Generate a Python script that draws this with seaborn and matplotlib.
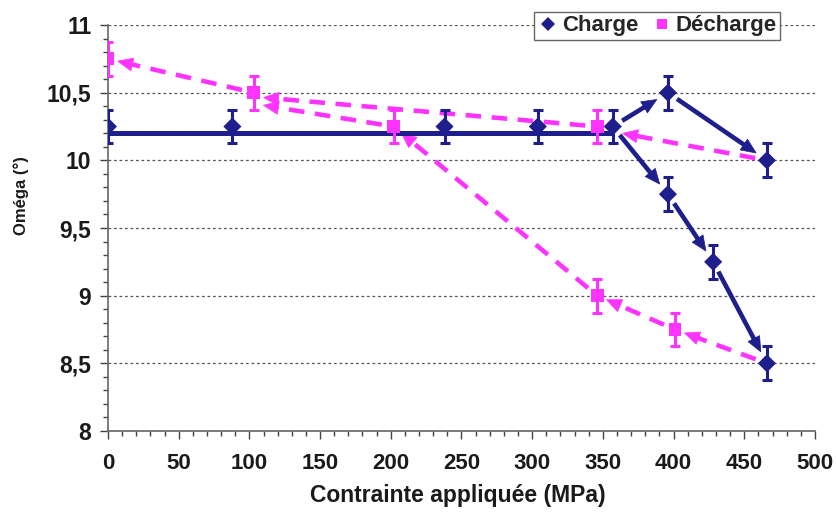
import matplotlib
matplotlib.use("Agg")
import matplotlib.pyplot as plt
from matplotlib.patches import Polygon
from matplotlib.ticker import MultipleLocator, FuncFormatter, FixedLocator
import numpy as np
import pandas as pd
import seaborn as sns

# Loading path: applied stress (MPa) and Omega angle (degrees)
charge_x = [0, 88, 238, 304, 357, 396, 466, 396, 428, 466]
charge_y = [10.25, 10.25, 10.25, 10.25, 10.25, 10.5, 10.0, 9.75, 9.25, 8.5]

# Unloading path
decharge_x = [0, 103, 202, 346, 346, 401]
decharge_y = [10.75, 10.5, 10.25, 10.25, 9.0, 8.75]

omega_err = 0.125

# Plateau of the loading branch
plateau_x = [0, 357]
plateau_y = [10.2, 10.2]

x_ticks = [0, 50, 100, 150, 200, 250, 300, 350, 400, 450, 500]
y_ticks = [8, 8.5, 9, 9.5, 10, 10.5, 11]

series_names = ["Charge", "Décharge"]
colors = {"Charge": "#1e1e8c", "Décharge": "#ff33ff"}

# Path arrows, given as indices into the point lists
charge_arrows = [(4, 5), (5, 6), (4, 7), (7, 8), (8, 9)]
decharge_arrows = [
    (("C", 6), ("C", 4), -5),
    (("D", 3), ("D", 1), -4),
    (("D", 2), ("D", 1), -11),
    (("D", 1), ("D", 0), 0),
    (("C", 9), ("D", 5), 0),
    (("D", 5), ("D", 4), 0),
    (("D", 4), ("D", 2), 0),
]

sns.set_theme(style="white")
plt.rcParams["font.family"] = ["Liberation Sans", "DejaVu Sans"]

df = pd.DataFrame({
    "x": charge_x + decharge_x,
    "y": charge_y + decharge_y,
    "serie": ["Charge"] * len(charge_x) + ["Décharge"] * len(decharge_x),
})

fig = plt.figure(figsize=(8.37, 5.16), dpi=100)
ax = fig.add_axes([0.129, 0.1647, 0.8447, 0.7868])
ax.set_xlim(0, 500)
ax.set_ylim(8, 11)

# Grid
ax.yaxis.grid(True, which="major", color="#555555", linestyle=(0, (2.2, 2.2)), linewidth=0.9)
ax.set_axisbelow(True)

# Plateau line
ax.plot(plateau_x, plateau_y, color=colors["Charge"], lw=3.6, solid_capstyle="butt", zorder=4)

pts = {"C": list(zip(charge_x, charge_y)), "D": list(zip(decharge_x, decharge_y))}


def draw_arrow(p_from, p_to, color, dashed, shrink_a, shrink_b, end_dy=0.0,
               lw=3.3, head_len=15.0, head_w=13.0, z=3):
    to_px = ax.transData.transform
    a = np.asarray(to_px(p_from), dtype=float)
    b = np.asarray(to_px(p_to), dtype=float) + np.array([0.0, end_dy])
    d = b - a
    u = d / np.hypot(*d)
    n = np.array([-u[1], u[0]])
    start = a + u * shrink_a
    tip = b - u * shrink_b
    base = tip - u * head_len
    inv = ax.transData.inverted()
    shaft = inv.transform(np.vstack([start, base + u * 2.0]))
    ax.plot(shaft[:, 0], shaft[:, 1], color=color, lw=lw,
            linestyle=(0, (3.4, 2.3)) if dashed else "-",
            solid_capstyle="butt", dash_capstyle="butt", zorder=z)
    head = inv.transform(np.vstack([tip, base + n * head_w / 2, base - n * head_w / 2]))
    ax.add_patch(Polygon(head, closed=True, facecolor=color, edgecolor=color,
                         lw=0.5, zorder=z))


for i, j in charge_arrows:
    draw_arrow(pts["C"][i], pts["C"][j], colors["Charge"], False, 11, 13, z=5)

for (sa, ia), (sb, ib), dy in decharge_arrows:
    draw_arrow(pts[sa][ia], pts[sb][ib], colors["Décharge"], True, 12, 10, end_dy=dy, z=3)

# Error bars
ax.errorbar(charge_x, charge_y, yerr=omega_err, fmt="none", ecolor=colors["Charge"],
            elinewidth=2.2, capsize=3.5, capthick=2.2, zorder=6)
ax.errorbar(decharge_x, decharge_y, yerr=omega_err, fmt="none", ecolor=colors["Décharge"],
            elinewidth=2.2, capsize=3.5, capthick=2.2, zorder=6)

# Markers
sns.scatterplot(data=df, x="x", y="y", hue="serie", style="serie",
                palette=colors, markers={"Charge": "D", "Décharge": "s"},
                s=85, linewidth=0, ax=ax, zorder=7, legend=True)

# Axes styling
for side in ["top", "right"]:
    ax.spines[side].set_visible(False)
for side in ["left", "bottom"]:
    ax.spines[side].set_color("#666666")
    ax.spines[side].set_linewidth(1.2)

ax.xaxis.set_major_locator(FixedLocator(x_ticks))
ax.yaxis.set_major_locator(FixedLocator(y_ticks))
ax.xaxis.set_minor_locator(MultipleLocator(10))
ax.yaxis.set_minor_locator(MultipleLocator(0.1))
ax.yaxis.set_major_formatter(FuncFormatter(lambda v, p: f"{v:g}".replace(".", ",")))
ax.tick_params(axis="both", which="major", direction="out", length=6, width=1,
               color="#444444", bottom=True, left=True)
ax.tick_params(axis="both", which="minor", direction="out", length=3.5, width=1,
               color="#444444", bottom=True, left=True)
ax.tick_params(axis="x", which="major", pad=10, labelsize=16)
ax.tick_params(axis="y", which="major", pad=6, labelsize=16.5)
for lab in ax.get_xticklabels() + ax.get_yticklabels():
    lab.set_fontweight("bold")
    lab.set_color("#1a1a1a")

ax.set_xlabel("Contrainte appliquée (MPa)", fontsize=16.5, fontweight="bold", color="#1a1a1a")
ax.set_ylabel("Oméga (°)", fontsize=12, fontweight="bold", color="#1a1a1a")
ax.xaxis.label.set_va("center")
ax.yaxis.label.set_va("center")
ax.xaxis.set_label_coords(0.495, -0.16)
ax.yaxis.set_label_coords(-0.123, 0.58)

# Legend
handles, labels = ax.get_legend_handles_labels()
keep = [(h, l) for h, l in zip(handles, labels) if l in series_names]
leg = ax.legend([h for h, _ in keep], [l for _, l in keep], ncol=2, loc="center",
                bbox_to_anchor=(0.785, 0.95), bbox_transform=fig.transFigure,
                frameon=True, fancybox=False, framealpha=1, edgecolor="#666666",
                prop={"weight": "bold", "size": 16}, handletextpad=0.1,
                columnspacing=0.6, borderpad=0.15, handlelength=1.0, markerscale=0.8)
leg.get_frame().set_linewidth(1.0)
leg.set_zorder(20)

fig.savefig("out.png", dpi=100)
